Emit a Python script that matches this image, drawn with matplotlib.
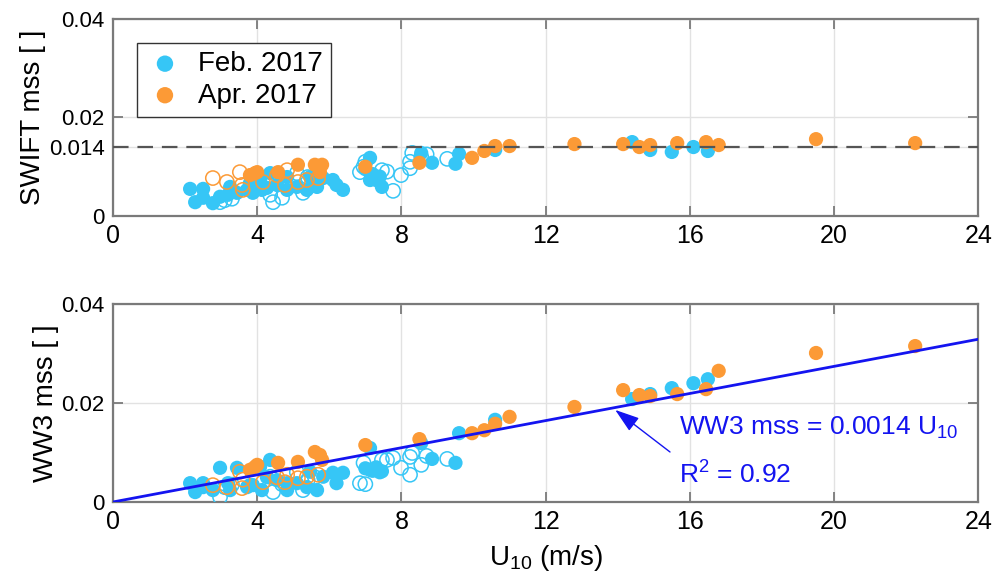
import matplotlib
matplotlib.use('Agg')
import matplotlib.pyplot as plt
import numpy as np

plt.rcParams['font.family'] = ['Liberation Sans', 'DejaVu Sans']
plt.rcParams['mathtext.default'] = 'regular'

# Feb. 2017, filled markers: U10, SWIFT mss, WW3 mss
feb_u = [2.14, 2.28, 2.5, 2.5, 2.77, 2.97, 3.19, 3.25, 3.44, 3.72, 3.8, 3.88,
         4.08, 4.13, 4.27, 4.36, 4.55, 4.83, 4.83, 5.1, 5.38, 5.47, 5.66, 5.83,
         6.1, 6.2, 6.38, 7.0, 7.13, 7.13, 7.2, 7.3, 7.4, 7.46, 8.55, 8.85, 9.5,
         9.6, 10.6, 14.4, 14.9, 15.5, 16.1, 16.5]
feb_swift = [0.0055, 0.0028, 0.0055, 0.0037, 0.0026, 0.0039, 0.0043, 0.0059,
             0.0047, 0.0053, 0.0067, 0.0047, 0.0073, 0.0053, 0.0057, 0.0087,
             0.0063, 0.0079, 0.0053, 0.0059, 0.0053, 0.0079, 0.0059, 0.0077,
             0.0073, 0.0063, 0.0053, 0.0095, 0.0118, 0.0073, 0.0085, 0.0073,
             0.0080, 0.0059, 0.0128, 0.0108, 0.0106, 0.0126, 0.0134, 0.0150,
             0.0134, 0.0130, 0.0140, 0.0132]
feb_ww3 = [0.0038, 0.0020, 0.0038, 0.0030, 0.0024, 0.0069, 0.0038, 0.0024,
           0.0069, 0.0030, 0.0034, 0.0034, 0.0071, 0.0024, 0.0050, 0.0085,
           0.0044, 0.0024, 0.0038, 0.0038, 0.0030, 0.0061, 0.0024, 0.0051,
           0.0059, 0.0038, 0.0059, 0.0068, 0.0109, 0.0065, 0.0063, 0.0070,
           0.0060, 0.0062, 0.0119, 0.0087, 0.0079, 0.0139, 0.0166, 0.0208,
           0.0218, 0.0230, 0.0240, 0.0248]

# Feb. 2017, open markers
feb_o_u = [2.97, 3.1, 3.3, 4.36, 4.44, 4.69, 5.1, 5.27, 5.4, 5.6, 6.85, 6.95,
           7.0, 7.46, 7.6, 7.77, 7.99, 8.24, 8.3, 8.24, 8.55, 8.7, 9.27]
feb_o_swift = [0.0028, 0.0032, 0.0035, 0.0043, 0.0028, 0.0037, 0.0087, 0.0047,
               0.0079, 0.0065, 0.0089, 0.0100, 0.0110, 0.0093, 0.0090, 0.0051,
               0.0083, 0.0097, 0.0128, 0.0110, 0.0120, 0.0125, 0.0116]
feb_o_ww3 = [0.0010, 0.0030, 0.0035, 0.0051, 0.0020, 0.0036, 0.0060, 0.0024,
             0.0044, 0.0050, 0.0038, 0.0079, 0.0036, 0.0085, 0.0085, 0.0089,
             0.0069, 0.0055, 0.0099, 0.0091, 0.0075, 0.0093, 0.0087]

# Apr. 2017, filled markers
apr_u = [3.8, 3.94, 4.0, 4.58, 5.13, 5.6, 5.74, 5.8, 7.0, 8.5, 9.96, 10.3,
         10.6, 11.0, 12.8, 14.15, 14.6, 14.9, 15.65, 16.45, 16.8, 19.5, 22.25]
apr_swift = [0.0083, 0.0087, 0.0089, 0.0089, 0.0104, 0.0104, 0.0089, 0.0104,
             0.0100, 0.0108, 0.0118, 0.0132, 0.0142, 0.0142, 0.0146, 0.0146,
             0.0140, 0.0144, 0.0148, 0.0150, 0.0144, 0.0156, 0.0148]
apr_ww3 = [0.0065, 0.0071, 0.0075, 0.0079, 0.0081, 0.0101, 0.0095, 0.0085,
           0.0115, 0.0127, 0.0139, 0.0145, 0.0158, 0.0172, 0.0192, 0.0226,
           0.0216, 0.0214, 0.0218, 0.0228, 0.0265, 0.0301, 0.0315]

# Apr. 2017, open markers
apr_o_u = [2.77, 3.16, 3.52, 3.58, 3.6, 4.16, 4.55, 4.77, 4.83, 5.13, 5.38, 5.69]
apr_o_swift = [0.0077, 0.0069, 0.0089, 0.0063, 0.0053, 0.0069, 0.0083, 0.0063,
               0.0093, 0.0069, 0.0073, 0.0077]
apr_o_ww3 = [0.0034, 0.0030, 0.0061, 0.0028, 0.0045, 0.0040, 0.0050, 0.0040,
             0.0055, 0.0048, 0.0051, 0.0055]

slope = 0.00137
swift_sat = 0.014
x_ticks = [0, 4, 8, 12, 16, 20, 24]

cyan = '#36c6f6'
orange = '#fc9a36'
frame = '#7a7a7a'

fig = plt.figure(figsize=(10.05, 5.88), dpi=100)
ax1 = fig.add_axes([0.1124, 0.6327, 0.861, 0.335])
ax2 = fig.add_axes([0.1124, 0.1463, 0.861, 0.3367])

ms = 105


def style(ax, yt, ylab):
    ax.set_xlim(0, 24)
    ax.set_ylim(0, 0.04)
    ax.set_xticks(x_ticks)
    ax.set_xticklabels([str(t) for t in x_ticks], fontsize=18)
    ax.set_yticks(yt)
    ax.set_yticklabels(['0' if v == 0 else ('%g' % v) for v in yt], fontsize=16)
    ax.grid(True, color='#e2e2e2', lw=1)
    ax.set_axisbelow(True)
    for s in ax.spines.values():
        s.set_color(frame)
        s.set_linewidth(1.6)
    ax.tick_params(direction='in', length=7, width=1.3, color=frame,
                   top=True, right=True, pad=6)
    ax.set_ylabel(ylab, fontsize=20, labelpad=2)


# top panel
ax1.scatter(feb_u, feb_swift, s=ms, color=cyan, edgecolors='none', label='Feb. 2017', zorder=3)
ax1.scatter(feb_o_u, feb_o_swift, s=ms, facecolors='none', edgecolors=cyan, linewidths=1.1, zorder=3)
ax1.scatter(apr_u, apr_swift, s=ms, color=orange, edgecolors='none', label='Apr. 2017', zorder=4)
ax1.scatter(apr_o_u, apr_o_swift, s=ms, facecolors='none', edgecolors=orange, linewidths=1.1, zorder=4)
ax1.axhline(swift_sat, color='#555555', lw=1.6, dashes=(7, 4), zorder=5)
style(ax1, [0, 0.014, 0.02, 0.04], 'SWIFT mss [ ]')
leg = ax1.legend(loc='upper left', bbox_to_anchor=(0.028, 0.88), borderaxespad=0,
                 fontsize=20, fancybox=False, edgecolor='#333333', framealpha=1,
                 handletextpad=0.5, labelspacing=0.2, borderpad=0.3, handlelength=1.4,
                 markerscale=1.15)
leg.get_frame().set_linewidth(1.0)

# bottom panel
ax2.scatter(feb_u, feb_ww3, s=ms, color=cyan, edgecolors='none', zorder=3)
ax2.scatter(feb_o_u, feb_o_ww3, s=ms, facecolors='none', edgecolors=cyan, linewidths=1.1, zorder=3)
ax2.scatter(apr_u, apr_ww3, s=ms, color=orange, edgecolors='none', zorder=4)
ax2.scatter(apr_o_u, apr_o_ww3, s=ms, facecolors='none', edgecolors=orange, linewidths=1.1, zorder=4)
xf = np.array([0, 24])
ax2.plot(xf, slope * xf, color='#1414f0', lw=2, zorder=6)
style(ax2, [0, 0.02, 0.04], 'WW3 mss [ ]')
ax2.set_xlabel('U$_{10}$ (m/s)', fontsize=20, labelpad=6)

ax2.annotate('', xy=(13.93, 0.0186), xytext=(15.45, 0.0101),
             arrowprops=dict(arrowstyle='-|>,head_length=0.75,head_width=0.25',
                             color='#1414f0', lw=1, shrinkA=0, shrinkB=0,
                             mutation_scale=20), zorder=7)
ax2.text(15.7, 0.0150, 'WW3 mss = 0.0014 U$_{10}$', color='#1414f0', fontsize=19,
         va='center', ha='left')
ax2.text(15.7, 0.0055, 'R$^2$ = 0.92', color='#1414f0', fontsize=19,
         va='center', ha='left')

fig.savefig('out.png', dpi=100)
